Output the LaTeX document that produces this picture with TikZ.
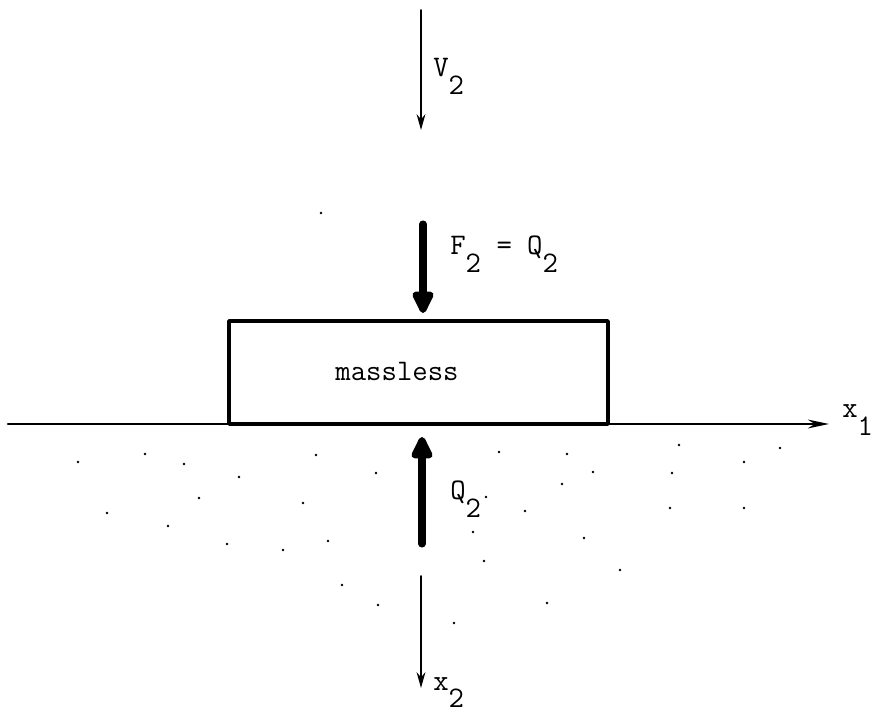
\documentclass[tikz,border=0pt]{standalone}
\usetikzlibrary{arrows.meta}
\newcommand{\lowsub}[1]{\raisebox{-0.6em}{#1}}
\begin{document}
\begin{tikzpicture}[x=0.02cm, y=-0.02cm, font=\ttfamily\fontsize{17}{20}\selectfont, line join=round, line cap=round, >={Stealth[length=9pt,width=5pt]},
	load/.style={line width=4pt, -{Triangle[length=15pt,width=13pt,round]}}]
	\useasboundingbox (0,0) rectangle (872,712);
	\coordinate (Vtop) at (421,10);
	\coordinate (Vbot) at (421,130);
	\coordinate (Ftop) at (423,224);
	\coordinate (Fbot) at (423,313);
	\coordinate (Qbot) at (422,544);
	\coordinate (Qtop) at (422,437);
	\coordinate (Xl) at (8,424);
	\coordinate (Xr) at (829,424);
	\coordinate (Ztop) at (421,576);
	\coordinate (Zbot) at (421,688);
	\coordinate (BL) at (229,424);
	\coordinate (TR) at (608,321);
	\draw[->, line width=1.1pt] (Vtop)--(Vbot);
	\draw[load] (Ftop)--(Fbot);
	\draw[load] (Qbot)--(Qtop);
	\draw[line width=2pt, line cap=butt] (BL) rectangle (TR);
	\draw[->, line width=1.5pt, >={Stealth[length=12pt,width=5pt]}] (Xl)--(Xr);
	\draw[->, line width=1.1pt] (Ztop)--(Zbot);
	\node[anchor=base west, inner sep=0pt] (vlab) at (433,77) {V\lowsub{2}};
	\node[anchor=base west, inner sep=0pt] (flab) at (450,255) {F\lowsub{2} = Q\lowsub{2}};
	\node[anchor=base west, inner sep=0pt] (qlab) at (450,500) {Q\lowsub{2}};
	\node[anchor=base west, inner sep=0pt] (x1lab) at (842,418) {x\lowsub{1}};
	\node[anchor=base west, inner sep=0pt] (x2lab) at (433,690) {x\lowsub{2}};
	\node (mass) at (397,371) {massless};
	% soil
	\foreach \p in {(78,462),(145,454),(184,464),(239,477),(316,455),(376,473),(199,498),(303,503),(107,513),(168,526),(227,544),(283,550),(328,541),(342,585),(378,605),
		(499,452),(567,454),(593,472),(679,445),(780,448),(744,462),(672,473),(562,484),(486,497),(525,511),(670,508),(744,508),(473,532),(584,538),(484,561),(620,570),(547,603),(454,623),(321,213)}
		\fill \p circle (0.8pt);
\end{tikzpicture}
\end{document}
